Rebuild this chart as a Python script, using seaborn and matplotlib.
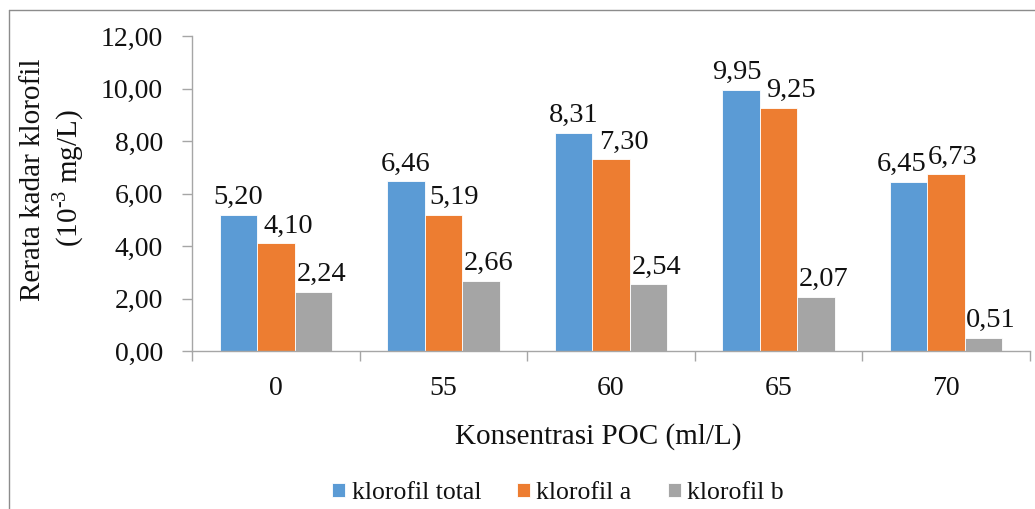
import matplotlib
matplotlib.use("Agg")
import matplotlib.pyplot as plt
import seaborn as sns
import pandas as pd
from matplotlib.lines import Line2D
from matplotlib.ticker import FuncFormatter, FixedLocator

# Chlorophyll content per POC concentration
konsentrasi = ["0", "55", "60", "65", "70"]
klorofil_total = [5.20, 6.46, 8.31, 9.95, 6.45]
klorofil_a = [4.10, 5.19, 7.30, 9.25, 6.73]
klorofil_b = [2.24, 2.66, 2.54, 2.07, 0.51]
seri = ["klorofil total", "klorofil a", "klorofil b"]
warna = ["#5B9BD5", "#ED7D31", "#A5A5A5"]

df = pd.DataFrame({
    "konsentrasi": konsentrasi * 3,
    "nilai": klorofil_total + klorofil_a + klorofil_b,
    "seri": [s for s in seri for _ in konsentrasi],
})

sns.set_theme(style="white")
plt.rcParams["font.family"] = ["Liberation Serif", "DejaVu Serif"]
plt.rcParams["mathtext.fontset"] = "custom"
plt.rcParams["mathtext.rm"] = "Liberation Serif"

TXT = "#111111"

fig = plt.figure(figsize=(10.35, 5.09), dpi=100)
ax = fig.add_axes([192 / 1035, 1 - 351 / 509, (1030 - 192) / 1035, (351 - 36) / 509])

sns.barplot(data=df, x="konsentrasi", y="nilai", hue="seri", order=konsentrasi,
            hue_order=seri, palette=warna, saturation=1, width=0.67, ax=ax,
            edgecolor="white", linewidth=0.6, errorbar=None)

leg = ax.get_legend()
handles, labels = ax.get_legend_handles_labels()
if leg is not None:
    leg.remove()

# value labels above bars, nudged sideways (pixels) so neighbours don't collide
label_nudge = [
    [0, 0, 0, -4, -7],
    [13, 11, 13, 12, 6],
    [8, 8, 8, 8, 7],
]
for cont, nudges in zip(ax.containers, label_nudge):
    for bar, dx in zip(cont, nudges):
        h = bar.get_height()
        ax.annotate(f"{h:.2f}".replace(".", ","),
                    (bar.get_x() + bar.get_width() / 2, h),
                    xytext=(dx * 0.72, 3.5), textcoords="offset points",
                    ha="center", va="bottom", fontsize=20.5, color=TXT)

ax.set_ylim(0, 12)
ax.set_xlim(-0.5, 4.5)
ax.set_yticks(range(0, 13, 2))
ax.yaxis.set_major_formatter(FuncFormatter(lambda v, p: f"{v:.2f}".replace(".", ",")))
ax.tick_params(axis="y", which="major", length=7, width=1, color="#A6A6A6",
               labelsize=20, pad=14, left=True, labelcolor=TXT)
ax.tick_params(axis="x", which="major", length=0, labelsize=20, pad=18,
               labelcolor=TXT)
ax.xaxis.set_minor_locator(FixedLocator([i - 0.5 for i in range(6)]))
ax.tick_params(axis="x", which="minor", length=7, width=1, color="#A6A6A6",
               bottom=True)

for s in ["top", "right"]:
    ax.spines[s].set_visible(False)
for s in ["left", "bottom"]:
    ax.spines[s].set_color("#A6A6A6")
    ax.spines[s].set_linewidth(1)

ax.set_xlabel("")
ax.set_ylabel("")
fig.text(598 / 1035, 1 - 437 / 509, "Konsentrasi POC (ml/L)", ha="center",
         va="center", fontsize=21, color=TXT)
fig.text(33 / 1035, 1 - 180 / 509, "Rerata kadar klorofil", rotation=90,
         ha="center", va="center", fontsize=21, color=TXT)
fig.text(68 / 1035, 1 - 178 / 509, "(10$^{\\mathregular{\u20103}}$ mg/L)", rotation=90,
         ha="center", va="center", fontsize=21, color=TXT)

fig.legend(handles, labels, loc="center", bbox_to_anchor=(558 / 1035, 1 - 493 / 509),
           ncol=3, frameon=False, fontsize=18.5, handlelength=0.5, handleheight=0.5,
           handletextpad=0.25, columnspacing=1.4, labelcolor=TXT)

# outer frame lines (left and top)
fig.add_artist(Line2D([9 / 1035, 9 / 1035], [0, 1 - 10 / 509], transform=fig.transFigure,
                      color="#8c8c8c", linewidth=1))
fig.add_artist(Line2D([9 / 1035, 1], [1 - 10 / 509, 1 - 10 / 509], transform=fig.transFigure,
                      color="#8c8c8c", linewidth=1))

fig.savefig("out.png", dpi=100)
